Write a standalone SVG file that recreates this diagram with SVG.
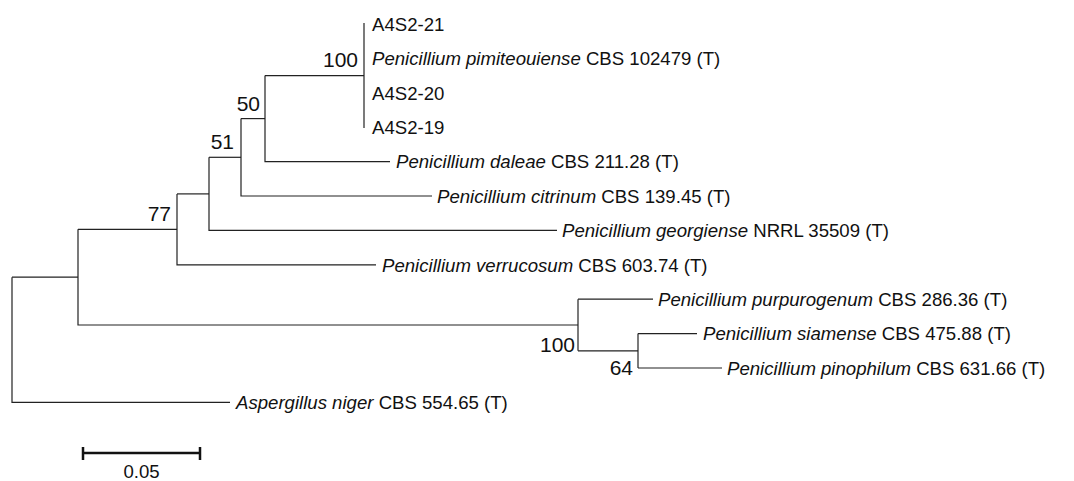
<svg xmlns="http://www.w3.org/2000/svg" width="1074" height="481" viewBox="0 0 1074 481">
<style>
.br{fill:none;stroke:#222;stroke-width:1.2}
.lf{font-family:"Liberation Sans",Arial,sans-serif;font-size:18.6px;fill:#111}
.it{font-style:italic}
.bs{font-family:"Liberation Sans",Arial,sans-serif;font-size:21px;fill:#111;text-anchor:end}
.sb{fill:none;stroke:#111;stroke-width:2.5}
</style>
<rect width="1074" height="481" fill="#fff"/>
<g id="connectors">
<path class="br" d="M364,23V128"/>
<path class="br" d="M265,75.6H364"/>
<path class="br" d="M265,75.6V161.6H390"/>
<path class="br" d="M241,118.6H265"/>
<path class="br" d="M241,118.6V196H432"/>
<path class="br" d="M209,157.3H241"/>
<path class="br" d="M209,157.3V230.4H557"/>
<path class="br" d="M177,193.9H209"/>
<path class="br" d="M177,193.9V264.8H376"/>
<path class="br" d="M78,229.3H177"/>
<path class="br" d="M78,229.3V325H578"/>
<path class="br" d="M578,299.2V350.8"/>
<path class="br" d="M578,299.2H653"/>
<path class="br" d="M578,350.8H638"/>
<path class="br" d="M638,333.6V368"/>
<path class="br" d="M638,333.6H697"/>
<path class="br" d="M638,368H722"/>
<path class="br" d="M12,277.2H78"/>
<path class="br" d="M12,277.2V402.4H230"/>
</g>
<g id="leaf-a4s2-21"><text class="lf" x="372" y="30.8">A4S2-21</text></g>
<g id="leaf-pimiteouiense"><text class="lf" x="372" y="65.2"><tspan class="it">Penicillium pimiteouiense</tspan> CBS 102479 (T)</text></g>
<g id="leaf-a4s2-20"><text class="lf" x="372" y="99.6">A4S2-20</text></g>
<g id="leaf-a4s2-19"><text class="lf" x="372" y="134">A4S2-19</text></g>
<g id="leaf-daleae"><text class="lf" x="396" y="168.4"><tspan class="it">Penicillium daleae</tspan> CBS 211.28 (T)</text></g>
<g id="leaf-citrinum"><text class="lf" x="437" y="202.8"><tspan class="it">Penicillium citrinum</tspan> CBS 139.45 (T)</text></g>
<g id="leaf-georgiense"><text class="lf" x="562" y="237.2"><tspan class="it">Penicillium georgiense</tspan> NRRL 35509 (T)</text></g>
<g id="leaf-verrucosum"><text class="lf" x="382" y="271.6"><tspan class="it">Penicillium verrucosum</tspan> CBS 603.74 (T)</text></g>
<g id="leaf-purpurogenum"><text class="lf" x="658" y="306"><tspan class="it">Penicillium purpurogenum</tspan> CBS 286.36 (T)</text></g>
<g id="leaf-siamense"><text class="lf" x="703" y="340.4"><tspan class="it">Penicillium siamense</tspan> CBS 475.88 (T)</text></g>
<g id="leaf-pinophilum"><text class="lf" x="727" y="374.8"><tspan class="it">Penicillium pinophilum</tspan> CBS 631.66 (T)</text></g>
<g id="leaf-aspergillus"><text class="lf" x="236" y="409.2"><tspan class="it">Aspergillus niger</tspan> CBS 554.65 (T)</text></g>
<g id="bootstrap-labels">
<text class="bs" x="358" y="67">100</text>
<text class="bs" x="260" y="111">50</text>
<text class="bs" x="234" y="149">51</text>
<text class="bs" x="171" y="221">77</text>
<text class="bs" x="575" y="352">100</text>
<text class="bs" x="633" y="375">64</text>
</g>
<g id="scale-bar">
<path class="sb" d="M83,453H200M83,447V460M200,447V460"/>
<text class="lf" x="141.5" y="478" text-anchor="middle">0.05</text>
</g>
</svg>
